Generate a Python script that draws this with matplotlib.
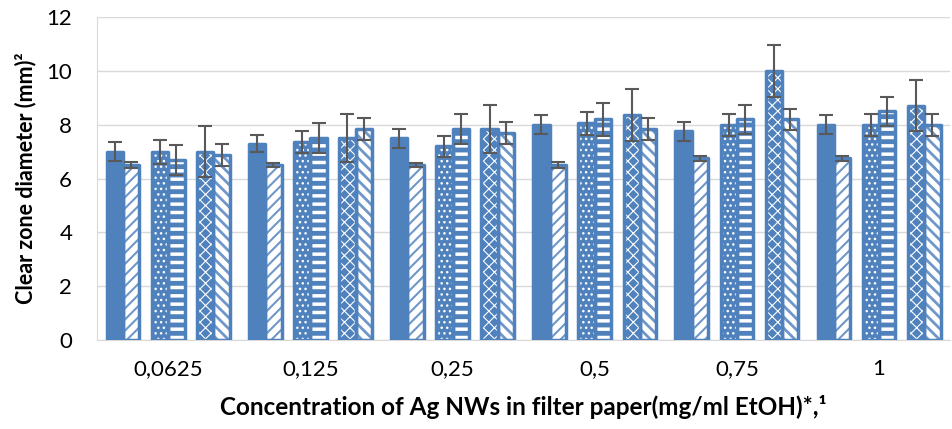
import matplotlib.pyplot as plt
import numpy as np

plt.rcParams['font.family'] = ['Lato', 'DejaVu Sans']

concentrations = ["0,0625", "0,125", "0,25", "0,5", "0,75", "1"]

# six series per concentration
s1 = [7.0, 7.3, 7.5, 8.0, 7.75, 8.0]
s2 = [6.5, 6.5, 6.5, 6.5, 6.75, 6.75]
s3 = [7.0, 7.35, 7.2, 8.05, 8.0, 8.0]
s4 = [6.7, 7.5, 7.85, 8.2, 8.2, 8.5]
s5 = [7.0, 7.5, 7.85, 8.35, 10.0, 8.7]
s6 = [6.87, 7.85, 7.7, 7.85, 8.2, 8.0]

e1 = [0.35, 0.33, 0.35, 0.35, 0.37, 0.35]
e2 = [0.1, 0.08, 0.08, 0.1, 0.1, 0.08]
e3 = [0.45, 0.4, 0.4, 0.42, 0.4, 0.4]
e4 = [0.55, 0.55, 0.55, 0.6, 0.55, 0.55]
e5 = [0.95, 0.9, 0.9, 0.97, 0.95, 0.95]
e6 = [0.4, 0.4, 0.4, 0.42, 0.4, 0.4]

blue = "#4F81BD"
x = np.arange(len(concentrations))
w = 0.115
pairs = [-0.318, 0.0, 0.318]

fig = plt.figure(figsize=(9.53, 4.29), dpi=100)
ax = fig.add_axes([0.102, 0.2075, 0.895, 0.7525])


def draw_bar(pos, vals, errs, hatch, white_on_blue, hlw, z):
    if hatch is None:
        ax.bar(pos, vals, w, color=blue, edgecolor=blue, linewidth=2.5,
               joinstyle='round', zorder=z)
    else:
        with plt.rc_context({'hatch.linewidth': hlw}):
            if white_on_blue:
                ax.bar(pos, vals, w, color=blue, edgecolor='white', hatch=hatch,
                       linewidth=0, zorder=z)
            else:
                ax.bar(pos, vals, w, color='white', edgecolor='#6F97C9', hatch=hatch,
                       linewidth=0, zorder=z)
        ax.bar(pos, vals, w, color='none', edgecolor=blue, linewidth=2.5,
               joinstyle='round', zorder=z + 0.1)
    ax.errorbar(pos, vals, yerr=errs, fmt='none', ecolor='#595959',
                elinewidth=1.5, capsize=5, capthick=1.5, zorder=10)


series = [
    (s1, e1, None, False, 1.0),
    (s2, e2, '///', False, 1.5),
    (s3, e3, '...', True, 1.0),
    (s4, e4, '--', True, 2.5),
    (s5, e5, 'xxx', True, 0.8),
    (s6, e6, '\\\\\\', False, 2.0),
]

for k, pc in enumerate(pairs):
    first = series[2 * k]
    second = series[2 * k + 1]
    # second bar of each pair sits under the first one
    draw_bar(x + pc + w / 2, second[0], second[1], second[2], second[3], second[4], 3)
    draw_bar(x + pc - w / 2, first[0], first[1], first[2], first[3], first[4], 4)

ax.set_xlim(-0.5, 5.5)
ax.set_ylim(0, 12)
ax.set_yticks(range(0, 13, 2))
ax.set_xticks(x)
ax.set_xticklabels(concentrations)
ax.yaxis.grid(True, color='#D9D9D9', linewidth=1)
ax.set_axisbelow(True)
ax.tick_params(length=0, labelsize=16, colors='black')
ax.tick_params(axis='y', pad=18)
ax.tick_params(axis='x', pad=14)
for side in ['top', 'right']:
    ax.spines[side].set_visible(False)
ax.spines['left'].set_color('#D9D9D9')
ax.spines['bottom'].set_color('#D9D9D9')

ax.set_ylabel("Clear zone diameter (mm)²", fontsize=15.5, fontweight='bold',
              labelpad=7)
ax.set_xlabel("Concentration of Ag NWs in filter paper(mg/ml EtOH)*,¹",
              fontsize=17.5, fontweight='bold', labelpad=11)

fig.savefig("out.png", dpi=100)
